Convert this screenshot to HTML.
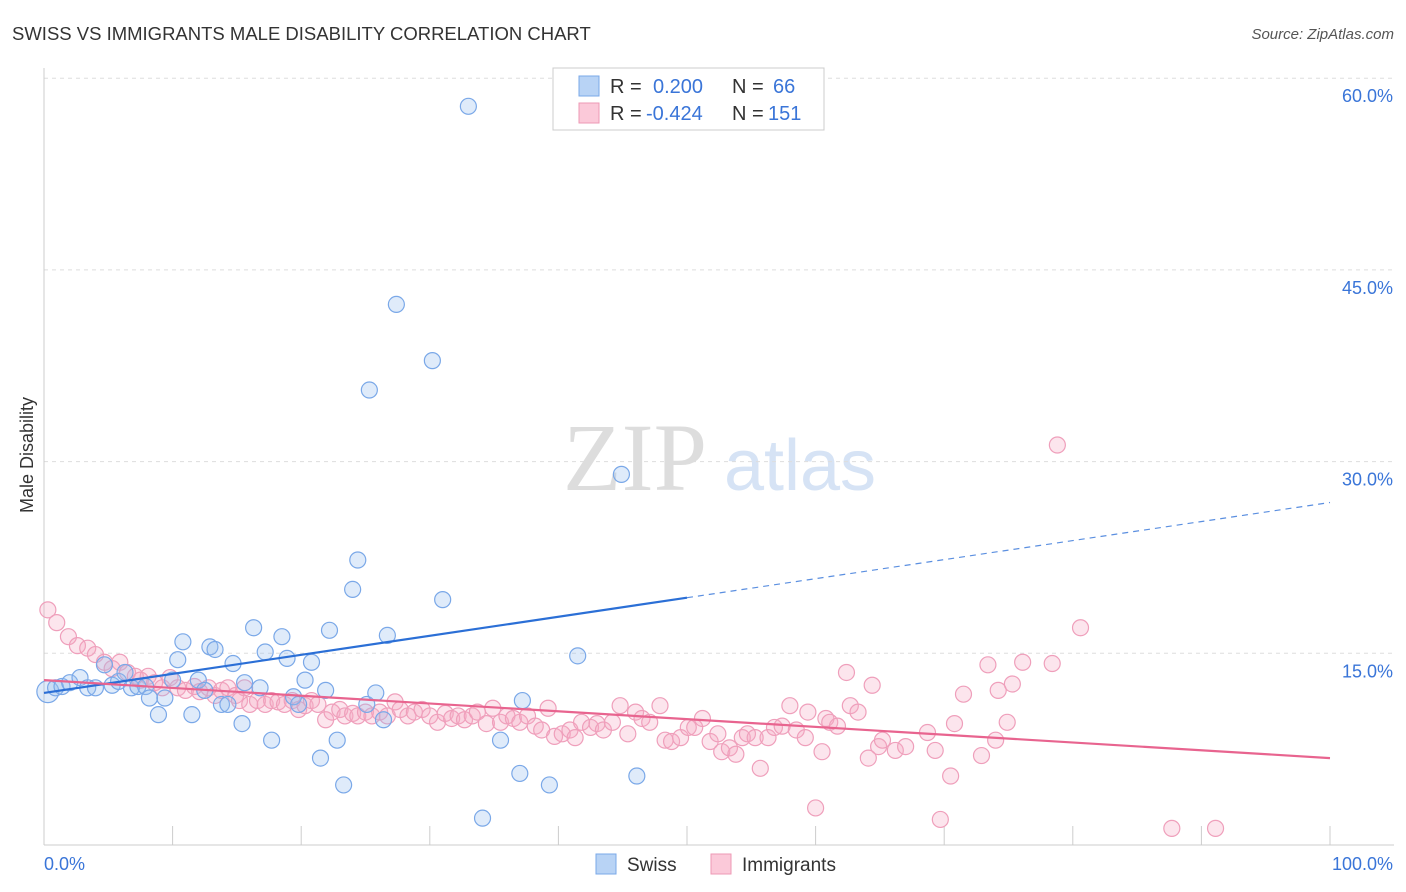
<!DOCTYPE html>
<html><head><meta charset="utf-8">
<style>
body{margin:0;background:#fff;font-family:"Liberation Sans",sans-serif;}
#wrap{position:relative;width:1406px;height:892px;overflow:hidden;}
</style></head>
<body>
<div id="wrap">
<svg id="svg" width="1406" height="892" xmlns="http://www.w3.org/2000/svg">
<text x="12" y="40" font-size="18.5" fill="#333">SWISS VS IMMIGRANTS MALE DISABILITY CORRELATION CHART</text>
<text x="1394" y="39" font-size="15" fill="#555" font-style="italic" text-anchor="end">Source: ZipAtlas.com</text>
<text x="635" y="490" font-size="96" fill="#ddd" font-family="Liberation Serif,serif" text-anchor="middle">ZIP</text>
<text x="800" y="490" font-size="72" fill="#d6e3f5" text-anchor="middle">atlas</text>
<text transform="translate(33,455) rotate(-90)" font-size="18" fill="#333" text-anchor="middle">Male Disability</text>
<g id="grid"></g><g id="axes"></g><g id="marks"></g>
<g>
<rect x="553" y="68" width="271" height="62" fill="#fff" stroke="#ccc"/>
<rect x="579" y="76" width="20" height="20" fill="#b8d3f5" stroke="#7aa8e8"/>
<rect x="579" y="103" width="20" height="20" fill="#fbc9d9" stroke="#ee99b5"/>
<text x="610" y="93" font-size="20" fill="#333">R = <tspan fill="#3a75d8" x="653">0.200</tspan><tspan x="732">N = </tspan><tspan fill="#3a75d8" x="773">66</tspan></text>
<text x="610" y="120" font-size="20" fill="#333">R = <tspan fill="#3a75d8" x="646">-0.424</tspan><tspan x="732">N = </tspan><tspan fill="#3a75d8" x="768">151</tspan></text>
</g>
<g>
<rect x="596" y="854" width="20" height="20" fill="#b8d3f5" stroke="#7aa8e8"/>
<text x="627" y="871" font-size="19" fill="#333">Swiss</text>
<rect x="711" y="854" width="20" height="20" fill="#fbc9d9" stroke="#ee99b5"/>
<text x="742" y="871" font-size="19" fill="#333">Immigrants</text>
</g>
</svg>
</div>
<script>
const yTicks=[15,30,45,60];
const yTickLabels=["15.0%","30.0%","45.0%","60.0%"];
const xTickVals=[0,10,20,30,40,50,60,70,80,90,100];
const swissX=[0.3,0.9,1.4,2.0,2.8,3.4,4.0,4.7,5.3,5.8,6.3,6.8,7.3,7.9,8.2,8.9,9.4,10.0,10.4,10.8,11.5,12.0,12.5,12.9,13.3,13.8,14.3,14.7,15.4,15.6,16.3,16.8,17.2,17.7,18.5,18.9,19.4,19.8,20.3,20.8,21.5,21.9,22.2,22.8,23.3,24.0,24.4,25.1,25.3,25.8,26.4,26.7,27.4,30.2,31.0,33.0,34.1,35.5,37.2,37.0,39.3,41.5,44.9,46.1];
const swissY=[12.0,12.3,12.4,12.7,13.1,12.3,12.3,14.1,12.5,12.8,13.5,12.3,12.4,12.4,11.5,10.2,11.5,12.9,14.5,15.9,10.2,12.9,12.1,15.5,15.3,11.0,11.0,14.2,9.5,12.7,17.0,12.3,15.1,8.2,16.3,14.6,11.6,11.0,12.9,14.3,6.8,12.1,16.8,8.2,4.7,20.0,22.3,11.0,35.6,11.9,9.8,16.4,42.3,37.9,19.2,57.8,2.1,8.2,11.3,5.6,4.7,14.8,29.0,5.4];
const immX=[0.3,0.99,1.9,2.6,3.4,4.0,4.7,5.3,5.9,6.5,7.1,7.5,8.1,8.6,9.2,9.8,10.4,11.0,11.7,12.1,12.8,13.3,13.8,14.3,14.9,15.2,15.6,16.0,16.6,17.2,17.7,18.2,18.7,19.3,19.8,20.3,20.8,21.3,21.9,22.4,23.0,23.4,24.0,24.4,25.0,25.5,26.1,26.7,27.3,27.7,28.3,28.8,29.4,30.0,30.6,31.2,31.7,32.2,32.7,33.3,33.7,34.4,34.9,35.5,36.0,36.5,37.0,37.6,38.2,38.7,39.2,39.7,40.3,40.9,41.3,41.8,42.5,43.0,43.5,44.2,44.8,45.4,46.0,46.5,47.1,47.9,48.3,48.8,49.5,50.1,50.6,51.2,51.8,52.4,52.7,53.3,53.8,54.3,54.7,55.3,55.7,56.3,56.8,57.4,58.0,58.5,59.2,59.4,60.0,60.5,60.8,61.1,61.7,62.4,62.7,63.3,64.1,64.4,64.9,65.2,66.2,67.0,68.7,69.3,69.7,70.5,70.8,71.5,72.9,73.4,74.0,74.2,74.9,75.3,76.1,78.4,78.8,80.6,87.7,91.1];
const immY=[18.4,17.4,16.3,15.6,15.4,14.9,14.3,13.8,14.3,13.5,13.2,12.9,13.2,12.7,12.3,13.1,12.3,12.1,12.4,12.0,12.3,11.7,12.1,12.3,11.7,11.3,12.3,11.0,11.3,11.0,11.3,11.2,11.0,11.3,10.6,10.9,11.3,11.0,9.8,10.4,10.6,10.1,10.3,10.1,10.4,10.1,10.4,10.1,11.2,10.6,10.1,10.4,10.6,10.1,9.6,10.3,9.9,10.1,9.8,10.1,10.4,9.5,10.7,9.6,10.1,9.9,9.6,10.1,9.3,9.0,10.7,8.5,8.7,9.0,8.4,9.6,9.2,9.5,9.0,9.6,10.9,8.7,10.4,9.9,9.6,10.9,8.2,8.1,8.4,9.2,9.2,9.9,8.1,8.7,7.3,7.6,7.1,8.4,8.7,8.4,6.0,8.4,9.2,9.3,10.9,9.0,8.4,10.4,2.9,7.3,9.9,9.6,9.3,13.5,10.9,10.4,6.8,12.5,7.7,8.2,7.4,7.7,8.8,7.4,2.0,5.4,9.5,11.8,7.0,14.1,8.2,12.1,9.6,12.6,14.3,14.2,31.3,17.0,1.3,1.3];
const swissTrend=[11.9,26.8];
const immTrend=[12.9,6.8];

const X0=44,X1=1330,Y0=845,YS=12.78;
const sx=v=>X0+(X1-X0)*v/100;
const sy=v=>Y0-v*YS;
const NS="http://www.w3.org/2000/svg";
function mk(tag,parent,attrs){const e=document.createElementNS(NS,tag);for(const k in attrs)e.setAttribute(k,attrs[k]);parent.appendChild(e);return e;}
const grid=document.getElementById('grid'),axes=document.getElementById('axes'),marks=document.getElementById('marks');
yTicks.forEach((t,i)=>{
 const l=mk('line',grid,{x1:X0,x2:1394,y1:sy(t),y2:sy(t),stroke:'#ddd','stroke-dasharray':'4,4'});
 
 
 const tx=mk('text',axes,{x:1393,y:sy(t)+24,'font-size':18,fill:'#3a75d8','text-anchor':'end'});
 tx.textContent=yTickLabels[i];
 
 
});
const ax=mk('line',axes,{x1:X0,x2:1394,y1:Y0,y2:Y0,stroke:'#ccc'});


const ay=mk('line',axes,{x1:X0,x2:X0,y1:68,y2:Y0,stroke:'#ccc'});


xTickVals.forEach(t=>{
 const l=mk('line',axes,{x1:sx(t),x2:sx(t),y1:826,y2:Y0,stroke:'#ccc'});
 
 
});
[[0,'0.0%','start',44],[100,'100.0%','end',1393]].forEach(([v,s,a,x])=>{
 const tx=mk('text',axes,{x:x,y:870,'font-size':18,fill:'#3a75d8','text-anchor':a});
 tx.textContent=s;
 
 
});
immX.forEach((x,i)=>{
 const c=mk('circle',marks,{cx:sx(x),cy:sy(immY[i]),r:8,fill:'rgba(246,168,196,0.3)',stroke:'#ef9fbb','stroke-width':1.2});
 
 
});
swissX.forEach((x,i)=>{
 const c=mk('circle',marks,{cx:sx(x),cy:sy(swissY[i]),r:i===0?11:8,fill:'rgba(150,190,240,0.3)',stroke:'#7aa8e8','stroke-width':1.2});
 
 
});
const swAt=v=>swissTrend[0]+(swissTrend[1]-swissTrend[0])*v/100;
const t1=mk('line',marks,{x1:sx(0),y1:sy(swAt(0)),x2:sx(50),y2:sy(swAt(50)),stroke:'#2b6fd6','stroke-width':2.2});


const t2=mk('line',marks,{x1:sx(50),y1:sy(swAt(50)),x2:sx(100),y2:sy(swAt(100)),stroke:'#5b8fe0','stroke-width':1.2,'stroke-dasharray':'6,5'});


const t3=mk('line',marks,{x1:sx(0),y1:sy(immTrend[0]),x2:sx(100),y2:sy(immTrend[1]),stroke:'#e8648f','stroke-width':2.2});


</script>
</body></html>
